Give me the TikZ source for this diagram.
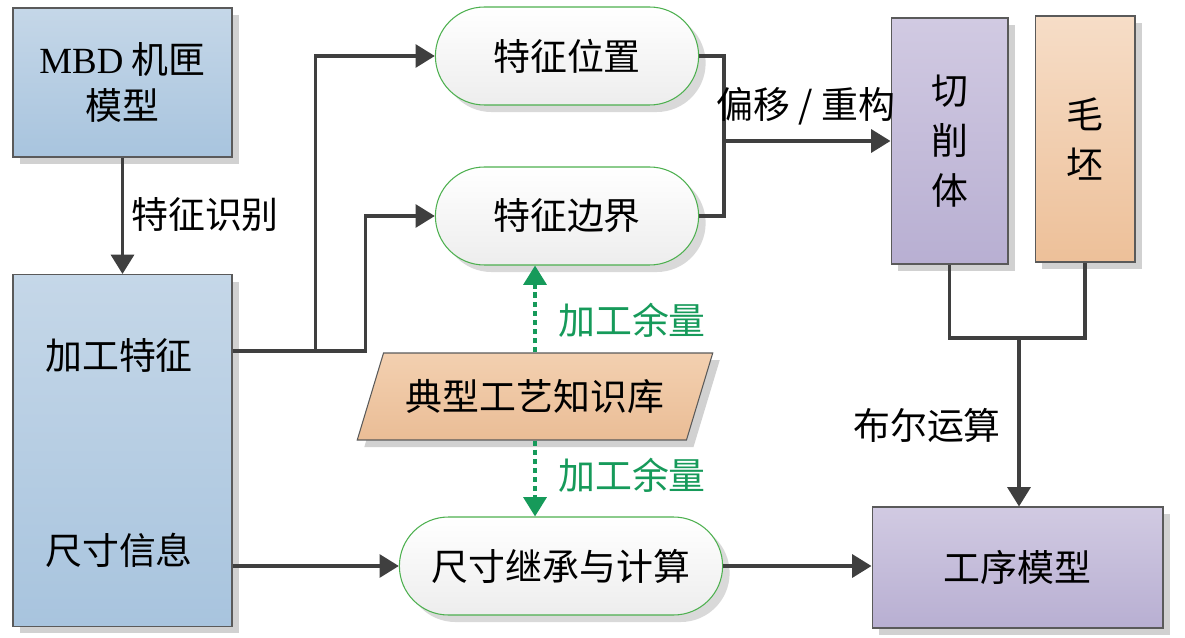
\documentclass[tikz,border=0pt]{standalone}
\usepackage{fontspec}
\setmainfont{Liberation Serif}
\newfontfamily\cjk{Noto Sans CJK SC}
\usetikzlibrary{arrows.meta,
shapes.misc,
shapes.geometric,
shadows,
positioning}

\definecolor{linegray}{HTML}{3F3F3F}
\definecolor{boxgray}{HTML}{5A5A5A}
\definecolor{allowgreen}{HTML}{169A5A}
\definecolor{pillgreen}{HTML}{4DB04F}

\begin{document}
\begin{tikzpicture} [x=0.02cm, y=-0.02cm,
    line width=2.1pt,
    every node/.style={font={\cjk\fontsize{21}{26}\selectfont}},
    flow/.style={draw=linegray, -{Triangle[length=11pt, width=13pt]}},
    plain/.style={draw=linegray},
    allow/.style={draw=allowgreen, dash pattern=on 3pt off 2.2pt,
        -{Triangle[length=11pt, width=13pt]}},
    main node/.style={rectangle, draw=boxgray, line width=0.6pt,
        align=center, drop shadow={shadow xshift=4pt, shadow yshift=-4pt,
        opacity=0.18, fill=black}},
    pill/.style={rounded rectangle, draw=pillgreen, line width=0.6pt,
        top color=white, bottom color=gray!14, minimum height=1.96cm,
        drop shadow={shadow xshift=4pt, shadow yshift=-4pt,
        opacity=0.15, fill=black}},
    tag/.style={inner sep=0pt}
  ]
  \useasboundingbox (0,0) rectangle (1185,638);

  % left column
  \node [main node,
    top color = {rgb,255:red,197;green,215;blue,232},
    bottom color = {rgb,255:red,168;green,196;blue,222},
    minimum width = 4.38cm,
    minimum height = 2.98cm
  ] (mbd) at (122.5, 82.5) {{\rmfamily MBD} 机匣\\模型};

  \node [main node,
    top color = {rgb,255:red,197;green,215;blue,232},
    bottom color = {rgb,255:red,168;green,196;blue,222},
    minimum width = 4.38cm,
    minimum height = 7.04cm
  ] (feat) at (122.5, 450.5) {};

  \node [tag] (proc) at (119, 355) {加工特征};
  \node [tag] (dim) at (119, 550) {尺寸信息};

  \draw [flow] (mbd.south) -- (feat.north);
  \node [tag] (recog) at (205, 215) {特征识别};

  % feature pills
  \node [pill, minimum width = 5.5cm] (pos) at (567, 56) {特征位置};
  \node [pill, minimum width = 5.5cm] (bnd) at (567, 216) {特征边界};
  \node [pill, minimum width = 6.7cm] (size) at (561, 566) {尺寸继承与计算};

  \draw [flow] (feat.east |- 0, 351) -- ++(83, 0) |- (pos.west);
  \draw [flow] (feat.east |- 0, 351) -- ++(133, 0) |- (bnd.west);
  \draw [flow] (feat.east |- size.west) -- (size.west);

  % knowledge base
  \node [main node,
    trapezium,
    trapezium left angle = 63,
    trapezium right angle = 117,
    trapezium stretches = true,
    top color = {rgb,255:red,243;green,208;blue,176},
    bottom color = {rgb,255:red,234;green,189;blue,150},
    minimum width = 7.12cm,
    minimum height = 1.74cm
  ] (lib) at (535, 396.5) {典型工艺知识库};

  \draw [allow] (lib.north) -- (lib.north |- bnd.south);
  \draw [allow] (lib.south) -- (lib.south |- size.north);
  \node [tag, text = allowgreen] (allowup) at (632, 320) {加工余量};
  \node [tag, text = allowgreen] (allowdn) at (632, 475) {加工余量};

  % right column
  \node [main node,
    top color = {rgb,255:red,209;green,202;blue,226},
    bottom color = {rgb,255:red,184;green,175;blue,210},
    minimum width = 2.34cm,
    minimum height = 4.92cm,
    font = {\cjk\fontsize{21}{28.5}\selectfont}
  ] (cut) at (949.5, 141) {切\\削\\体};
  \node [main node,
    top color = {rgb,255:red,246;green,221;blue,199},
    bottom color = {rgb,255:red,237;green,192;blue,153},
    minimum width = 2cm,
    minimum height = 4.92cm,
    font = {\cjk\fontsize{21}{28}\selectfont}
  ] (blank) at (1085, 139) {毛\\坯};
  \node [main node,
    top color = {rgb,255:red,209;green,202;blue,226},
    bottom color = {rgb,255:red,184;green,175;blue,210},
    minimum width = 5.82cm,
    minimum height = 2.42cm
  ] (stage) at (1017.5, 567.5) {工序模型};

  \coordinate (merge) at (723, 141);
  \draw [plain] (pos.east) -- ++(25, 0) |- (bnd.east);
  \draw [flow] (merge) -- (merge -| cut.west);
  \node [tag] (shift) at (806, 106) {偏移 / 重构};

  \coordinate (join) at (1019, 338);
  \draw [plain] (cut.south) |- (join) -| (blank.south);
  \draw [flow] (join) -- (join |- stage.north);
  \node [tag] (bool) at (927, 425) {布尔运算};

  \draw [flow] (size.east) -- (size.east -| stage.west);

\end{tikzpicture}
\end{document}
